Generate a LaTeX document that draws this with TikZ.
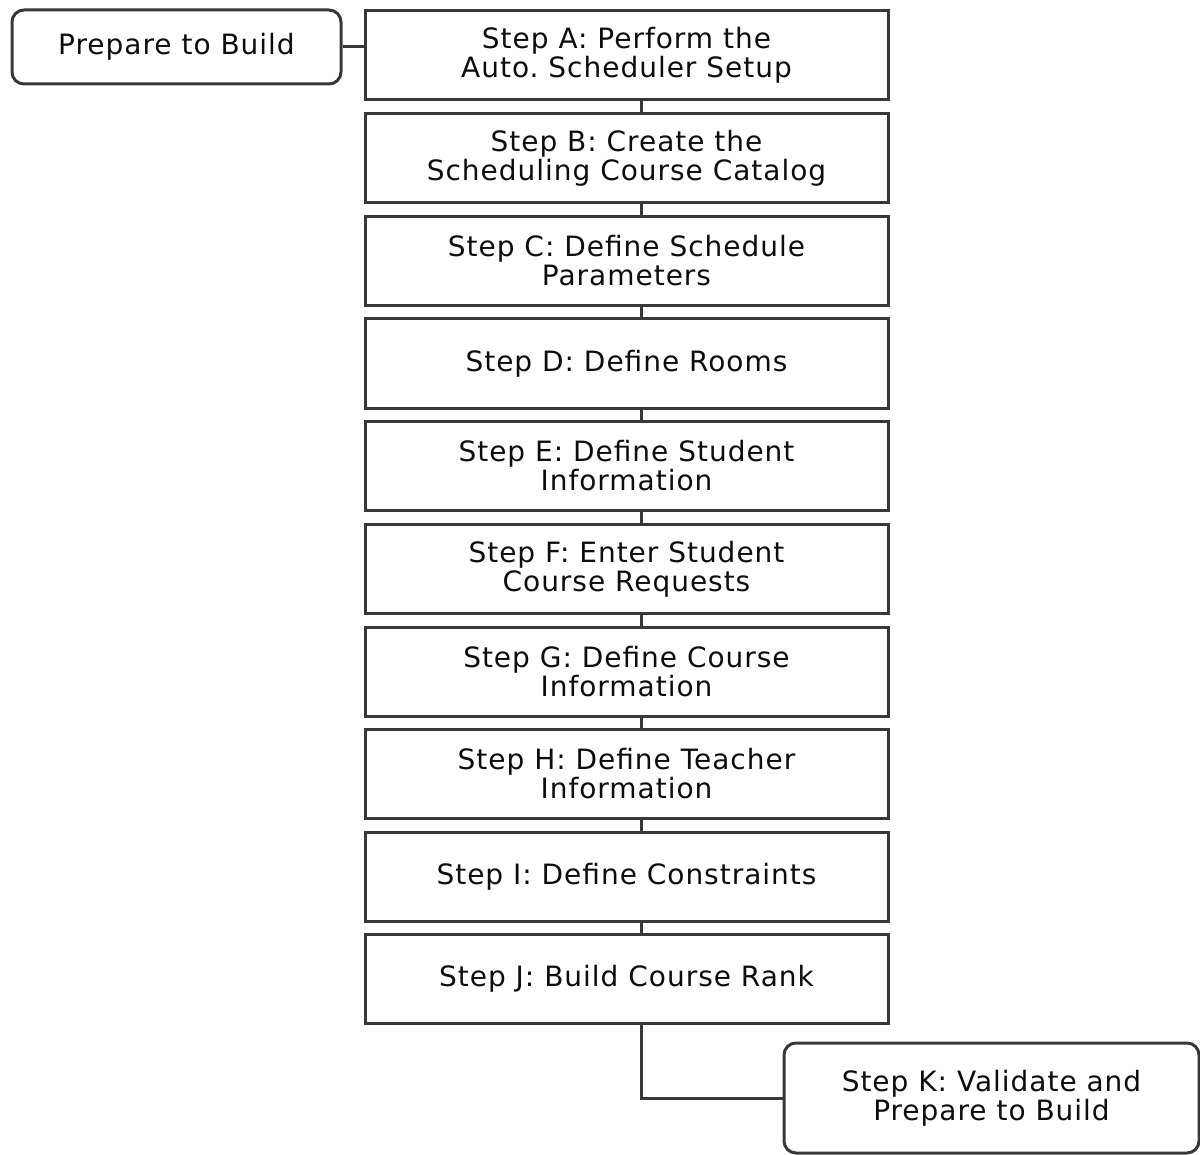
\documentclass[tikz,border=0pt]{standalone}
\usepackage{fontspec}
\setmainfont[LetterSpace=3.5]{DejaVu Sans}
\frenchspacing
\begin{document}
\begin{tikzpicture}[x=0.5pt,y=-0.5pt,font=\fontsize{14}{14.5}\selectfont,
  stepbox/.style={draw=black!78,line width=1.5pt,fill=white,align=center,text=black!95,
    minimum width=261.5pt,minimum height=44.5pt,inner sep=0pt},
  endbox/.style={stepbox,rounded corners=6pt},
  link/.style={draw=black!78,line width=1.5pt}]
\useasboundingbox (0,0) rectangle (1200,1155);
\node[endbox,minimum width=164.5pt,minimum height=37pt](prep) at (176.5,47){Prepare to Build};
\node[stepbox](a) at (626.5,55){Step A: Perform the\\Auto. Scheduler Setup};
\node[stepbox](b) at (626.5,158.5){Step B: Create the\\Scheduling Course Catalog};
\node[stepbox](c) at (626.5,261){Step C: Define Schedule\\Parameters};
\node[stepbox](d) at (626.5,363.5){Step D: Define Rooms};
\node[stepbox](e) at (626.5,466){Step E: Define Student\\Information};
\node[stepbox](f) at (626.5,569){Step F: Enter Student\\Course Requests};
\node[stepbox](g) at (626.5,671.5){Step G: Define Course\\Information};
\node[stepbox](h) at (626.5,773.5){Step H: Define Teacher\\Information};
\node[stepbox](i) at (626.5,876.5){Step I: Define Constraints};
\node[stepbox](j) at (626.5,979){Step J: Build Course Rank};
\node[endbox,minimum width=207.5pt,minimum height=55pt](k) at (991.5,1098){Step K: Validate and\\Prepare to Build};
\draw[link](prep.east)--(a.west|-prep.east);
\foreach \u/\v in {a/b,b/c,c/d,d/e,e/f,f/g,g/h,h/i,i/j}
  \draw[link]([xshift=7.25pt]\u.south)--([xshift=7.25pt]\v.north);
\draw[link]([xshift=7.25pt]j.south)|-(k.west);
\end{tikzpicture}
\end{document}
